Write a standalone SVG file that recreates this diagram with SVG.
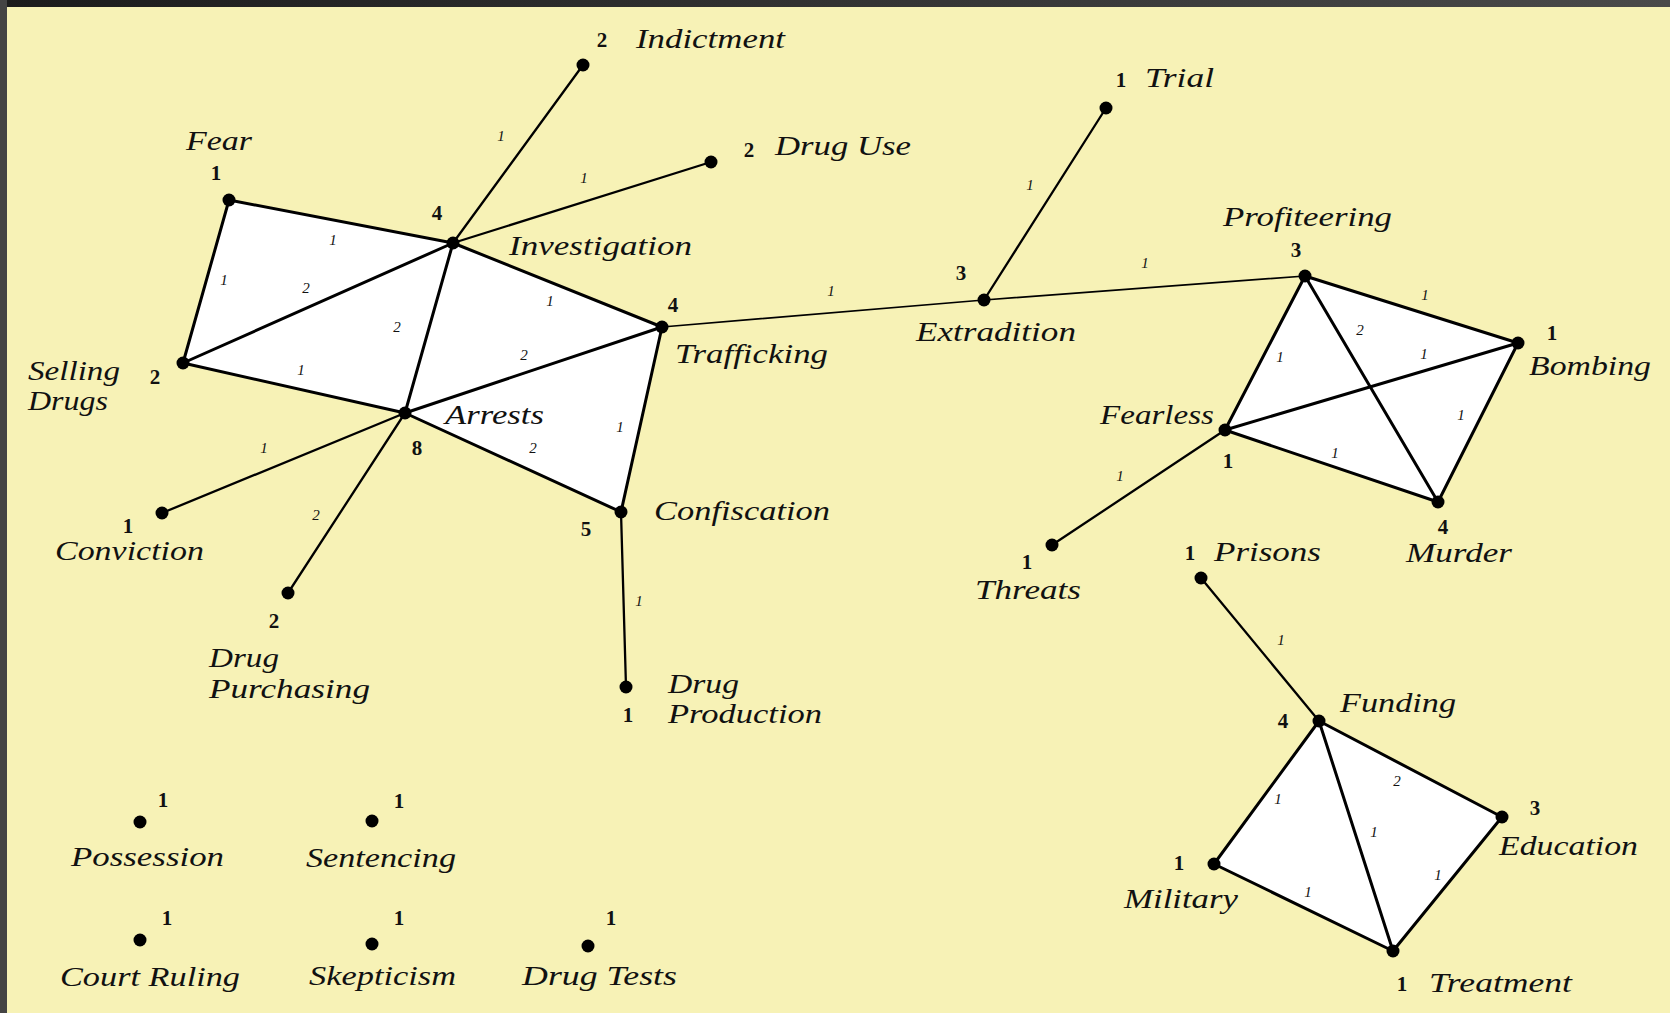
<svg xmlns="http://www.w3.org/2000/svg" width="1670" height="1013" viewBox="0 0 1670 1013">
<defs>
<linearGradient id="topbar" x1="0" y1="0" x2="1" y2="0">
<stop offset="0" stop-color="#1c1c1c"/><stop offset="1" stop-color="#4a4a4a"/>
</linearGradient>
</defs>
<style>
.lbl{font-family:"Liberation Serif","Times New Roman",serif;font-style:italic;font-size:27px;fill:#111}
.cnt{font-family:"Liberation Serif","Times New Roman",serif;font-weight:bold;font-size:21px;fill:#111;text-anchor:middle}
.el{font-family:"Liberation Serif","Times New Roman",serif;font-style:italic;font-size:15px;fill:#111;text-anchor:middle}
.e{stroke:#000;stroke-linecap:round;fill:none}
.thick{stroke-width:3}
.mid{stroke-width:2.3}
.thin{stroke-width:1.7}
.dot{fill:#000}
.fill{fill:#fff;stroke:none}
</style>
<rect x="0" y="0" width="1670" height="1013" fill="#F7F2B6"/>
<rect x="0" y="0" width="1670" height="7" fill="url(#topbar)"/>
<rect x="0" y="0" width="7" height="1013" fill="#444"/>

<g id="regions">
<polygon class="fill" points="229,200 453,243 662,327 621,512 405,413 183,363"/>
<polygon class="fill" points="1305,276 1518,343 1438,502 1225,430"/>
<polygon class="fill" points="1319,721 1502,817 1393,951 1214,864"/>
</g>

<g id="connectors">
<line class="e thick" x1="229" y1="200" x2="453" y2="243"/>
<line class="e thick" x1="229" y1="200" x2="183" y2="363"/>
<line class="e thick" x1="183" y1="363" x2="453" y2="243"/>
<line class="e thick" x1="183" y1="363" x2="405" y2="413"/>
<line class="e thick" x1="453" y1="243" x2="405" y2="413"/>
<line class="e thick" x1="453" y1="243" x2="662" y2="327"/>
<line class="e thick" x1="405" y1="413" x2="662" y2="327"/>
<line class="e thick" x1="405" y1="413" x2="621" y2="512"/>
<line class="e thick" x1="662" y1="327" x2="621" y2="512"/>
<line class="e mid" x1="453" y1="243" x2="583" y2="65"/>
<line class="e mid" x1="453" y1="243" x2="711" y2="162"/>
<line class="e mid" x1="405" y1="413" x2="162" y2="513"/>
<line class="e mid" x1="405" y1="413" x2="288" y2="593"/>
<line class="e mid" x1="621" y1="512" x2="626" y2="687"/>
<line class="e thin" x1="662" y1="327" x2="984" y2="300"/>
<line class="e mid" x1="984" y1="300" x2="1106" y2="108"/>
<line class="e thin" x1="984" y1="300" x2="1305" y2="276"/>
<line class="e thick" x1="1305" y1="276" x2="1518" y2="343"/>
<line class="e thick" x1="1305" y1="276" x2="1225" y2="430"/>
<line class="e thick" x1="1305" y1="276" x2="1438" y2="502"/>
<line class="e thick" x1="1225" y1="430" x2="1518" y2="343"/>
<line class="e thick" x1="1518" y1="343" x2="1438" y2="502"/>
<line class="e thick" x1="1225" y1="430" x2="1438" y2="502"/>
<line class="e mid" x1="1225" y1="430" x2="1052" y2="545"/>
<line class="e mid" x1="1201" y1="578" x2="1319" y2="721"/>
<line class="e thick" x1="1319" y1="721" x2="1502" y2="817"/>
<line class="e thick" x1="1319" y1="721" x2="1214" y2="864"/>
<line class="e thick" x1="1319" y1="721" x2="1393" y2="951"/>
<line class="e thick" x1="1214" y1="864" x2="1393" y2="951"/>
<line class="e thick" x1="1502" y1="817" x2="1393" y2="951"/>
<g id="edge-labels">
<text class="el" x="333" y="245">1</text>
<text class="el" x="224" y="285">1</text>
<text class="el" x="306" y="293">2</text>
<text class="el" x="397" y="332">2</text>
<text class="el" x="301" y="375">1</text>
<text class="el" x="501" y="141">1</text>
<text class="el" x="584" y="183">1</text>
<text class="el" x="550" y="306">1</text>
<text class="el" x="524" y="360">2</text>
<text class="el" x="533" y="453">2</text>
<text class="el" x="620" y="432">1</text>
<text class="el" x="264" y="453">1</text>
<text class="el" x="316" y="520">2</text>
<text class="el" x="639" y="606">1</text>
<text class="el" x="831" y="296">1</text>
<text class="el" x="1030" y="190">1</text>
<text class="el" x="1145" y="268">1</text>
<text class="el" x="1425" y="300">1</text>
<text class="el" x="1360" y="335">2</text>
<text class="el" x="1280" y="362">1</text>
<text class="el" x="1424" y="359">1</text>
<text class="el" x="1461" y="420">1</text>
<text class="el" x="1335" y="458">1</text>
<text class="el" x="1120" y="481">1</text>
<text class="el" x="1281" y="645">1</text>
<text class="el" x="1397" y="786">2</text>
<text class="el" x="1278" y="804">1</text>
<text class="el" x="1374" y="837">1</text>
<text class="el" x="1308" y="897">1</text>
<text class="el" x="1438" y="880">1</text>
</g>
</g>

<g id="n-fear"><circle class="dot" cx="229" cy="200" r="6.5"/><text class="cnt" x="216" y="180">1</text><text class="lbl" x="186" y="150" textLength="66" lengthAdjust="spacingAndGlyphs">Fear</text></g>
<g id="n-investigation"><circle class="dot" cx="453" cy="243" r="6.5"/><text class="cnt" x="437" y="220">4</text><text class="lbl" x="509" y="255" textLength="183" lengthAdjust="spacingAndGlyphs">Investigation</text></g>
<g id="n-indictment"><circle class="dot" cx="583" cy="65" r="6.5"/><text class="cnt" x="602" y="47">2</text><text class="lbl" x="636" y="48" textLength="149" lengthAdjust="spacingAndGlyphs">Indictment</text></g>
<g id="n-druguse"><circle class="dot" cx="711" cy="162" r="6.5"/><text class="cnt" x="749" y="157">2</text><text class="lbl" x="775" y="155" textLength="136" lengthAdjust="spacingAndGlyphs">Drug Use</text></g>
<g id="n-selling"><circle class="dot" cx="183" cy="363" r="6.5"/><text class="cnt" x="155" y="384">2</text><text class="lbl" x="28" y="380" textLength="92" lengthAdjust="spacingAndGlyphs">Selling</text><text class="lbl" x="28" y="410" textLength="80" lengthAdjust="spacingAndGlyphs">Drugs</text></g>
<g id="n-arrests"><circle class="dot" cx="405" cy="413" r="6.5"/><text class="cnt" x="417" y="455">8</text><text class="lbl" x="445" y="424" textLength="99" lengthAdjust="spacingAndGlyphs">Arrests</text></g>
<g id="n-trafficking"><circle class="dot" cx="662" cy="327" r="6.5"/><text class="cnt" x="673" y="312">4</text><text class="lbl" x="675" y="363" textLength="153" lengthAdjust="spacingAndGlyphs">Trafficking</text></g>
<g id="n-confiscation"><circle class="dot" cx="621" cy="512" r="6.5"/><text class="cnt" x="586" y="536">5</text><text class="lbl" x="654" y="520" textLength="176" lengthAdjust="spacingAndGlyphs">Confiscation</text></g>
<g id="n-drugproduction"><circle class="dot" cx="626" cy="687" r="6.5"/><text class="cnt" x="628" y="722">1</text><text class="lbl" x="668" y="693" textLength="71" lengthAdjust="spacingAndGlyphs">Drug</text><text class="lbl" x="668" y="723" textLength="154" lengthAdjust="spacingAndGlyphs">Production</text></g>
<g id="n-conviction"><circle class="dot" cx="162" cy="513" r="6.5"/><text class="cnt" x="128" y="533">1</text><text class="lbl" x="55" y="560" textLength="149" lengthAdjust="spacingAndGlyphs">Conviction</text></g>
<g id="n-drugpurchasing"><circle class="dot" cx="288" cy="593" r="6.5"/><text class="cnt" x="274" y="628">2</text><text class="lbl" x="209" y="667" textLength="70" lengthAdjust="spacingAndGlyphs">Drug</text><text class="lbl" x="209" y="698" textLength="161" lengthAdjust="spacingAndGlyphs">Purchasing</text></g>
<g id="n-extradition"><circle class="dot" cx="984" cy="300" r="6.5"/><text class="cnt" x="961" y="280">3</text><text class="lbl" x="916" y="341" textLength="160" lengthAdjust="spacingAndGlyphs">Extradition</text></g>
<g id="n-trial"><circle class="dot" cx="1106" cy="108" r="6.5"/><text class="cnt" x="1121" y="87">1</text><text class="lbl" x="1145" y="87" textLength="69" lengthAdjust="spacingAndGlyphs">Trial</text></g>
<g id="n-profiteering"><circle class="dot" cx="1305" cy="276" r="6.5"/><text class="cnt" x="1296" y="257">3</text><text class="lbl" x="1223" y="226" textLength="169" lengthAdjust="spacingAndGlyphs">Profiteering</text></g>
<g id="n-bombing"><circle class="dot" cx="1518" cy="343" r="6.5"/><text class="cnt" x="1552" y="340">1</text><text class="lbl" x="1529" y="375" textLength="122" lengthAdjust="spacingAndGlyphs">Bombing</text></g>
<g id="n-fearless"><circle class="dot" cx="1225" cy="430" r="6.5"/><text class="cnt" x="1228" y="468">1</text><text class="lbl" x="1100" y="424" textLength="114" lengthAdjust="spacingAndGlyphs">Fearless</text></g>
<g id="n-murder"><circle class="dot" cx="1438" cy="502" r="6.5"/><text class="cnt" x="1443" y="534">4</text><text class="lbl" x="1406" y="562" textLength="106" lengthAdjust="spacingAndGlyphs">Murder</text></g>
<g id="n-threats"><circle class="dot" cx="1052" cy="545" r="6.5"/><text class="cnt" x="1027" y="569">1</text><text class="lbl" x="975" y="599" textLength="106" lengthAdjust="spacingAndGlyphs">Threats</text></g>
<g id="n-prisons"><circle class="dot" cx="1201" cy="578" r="6.5"/><text class="cnt" x="1190" y="560">1</text><text class="lbl" x="1214" y="561" textLength="107" lengthAdjust="spacingAndGlyphs">Prisons</text></g>
<g id="n-funding"><circle class="dot" cx="1319" cy="721" r="6.5"/><text class="cnt" x="1283" y="728">4</text><text class="lbl" x="1340" y="712" textLength="116" lengthAdjust="spacingAndGlyphs">Funding</text></g>
<g id="n-education"><circle class="dot" cx="1502" cy="817" r="6.5"/><text class="cnt" x="1535" y="815">3</text><text class="lbl" x="1499" y="855" textLength="139" lengthAdjust="spacingAndGlyphs">Education</text></g>
<g id="n-military"><circle class="dot" cx="1214" cy="864" r="6.5"/><text class="cnt" x="1179" y="870">1</text><text class="lbl" x="1124" y="908" textLength="114" lengthAdjust="spacingAndGlyphs">Military</text></g>
<g id="n-treatment"><circle class="dot" cx="1393" cy="951" r="6.5"/><text class="cnt" x="1402" y="991">1</text><text class="lbl" x="1429" y="992" textLength="143" lengthAdjust="spacingAndGlyphs">Treatment</text></g>
<g id="n-possession"><circle class="dot" cx="140" cy="822" r="6.5"/><text class="cnt" x="163" y="807">1</text><text class="lbl" x="71" y="866" textLength="153" lengthAdjust="spacingAndGlyphs">Possession</text></g>
<g id="n-sentencing"><circle class="dot" cx="372" cy="821" r="6.5"/><text class="cnt" x="399" y="808">1</text><text class="lbl" x="306" y="867" textLength="150" lengthAdjust="spacingAndGlyphs">Sentencing</text></g>
<g id="n-courtruling"><circle class="dot" cx="140" cy="940" r="6.5"/><text class="cnt" x="167" y="925">1</text><text class="lbl" x="60" y="986" textLength="180" lengthAdjust="spacingAndGlyphs">Court Ruling</text></g>
<g id="n-skepticism"><circle class="dot" cx="372" cy="944" r="6.5"/><text class="cnt" x="399" y="925">1</text><text class="lbl" x="309" y="985" textLength="147" lengthAdjust="spacingAndGlyphs">Skepticism</text></g>
<g id="n-drugtests"><circle class="dot" cx="588" cy="946" r="6.5"/><text class="cnt" x="611" y="925">1</text><text class="lbl" x="522" y="985" textLength="155" lengthAdjust="spacingAndGlyphs">Drug Tests</text></g>
</svg>
